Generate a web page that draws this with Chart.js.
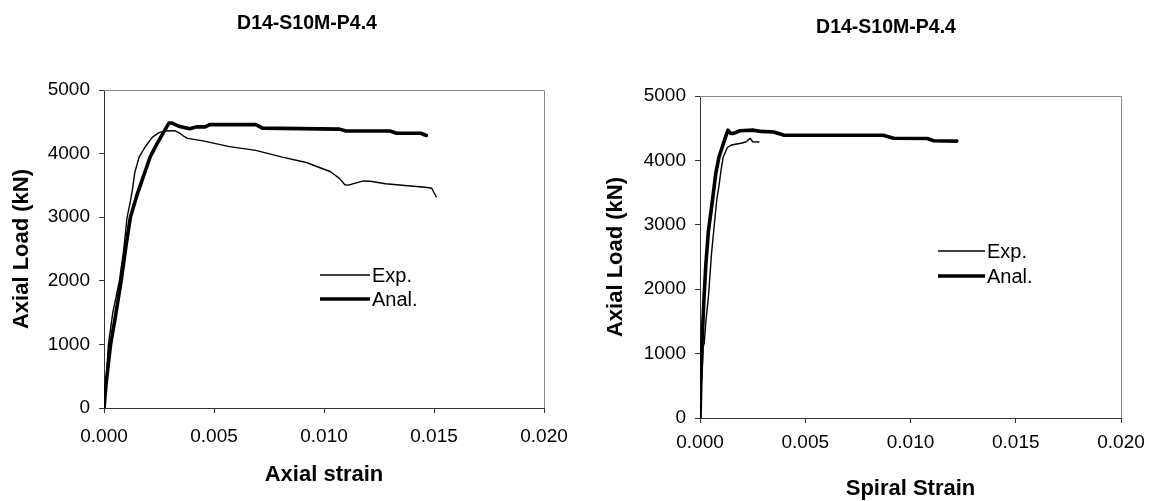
<!DOCTYPE html>
<html>
<head>
<meta charset="utf-8">
<script src="https://cdn.jsdelivr.net/npm/chart.js@4.4.1/dist/chart.umd.min.js"></script>
<style>
  html, body { margin: 0; padding: 0; background: #fff; overflow: hidden; }
  body { width: 1149px; height: 501px; position: relative; }
  .panel { position: absolute; top: 0; height: 501px; }
  #leftPanel { left: 0; width: 614px; }
  #rightPanel { left: 600px; width: 572px; }
</style>
</head>
<body>
<div class="panel" id="leftPanel"><canvas id="axialChart"></canvas></div>
<div class="panel" id="rightPanel"><canvas id="spiralChart"></canvas></div>
<script>
const chartTitle = "D14-S10M-P4.4";
const seriesNames = ["Exp.", "Anal."];
const strainTicks = ["0.000", "0.005", "0.010", "0.015", "0.020"];
const loadTicks = ["0", "1000", "2000", "3000", "4000", "5000"];

// axial strain vs load
const axialStrainExp = [0, 0.0001, 0.0002, 0.0004, 0.0007, 0.0009, 0.00105, 0.0012, 0.0013, 0.0014, 0.0016, 0.0019, 0.0022, 0.0025, 0.0028, 0.0032, 0.0034, 0.0036, 0.0038, 0.0045, 0.0057, 0.0069, 0.0081, 0.0092, 0.0103, 0.0107, 0.01095, 0.0111, 0.0118, 0.0121, 0.0128, 0.0138, 0.0146, 0.0149, 0.0151];
const axialLoadExp = [0, 450, 1000, 1500, 2000, 2500, 3000, 3250, 3450, 3700, 3950, 4120, 4260, 4330, 4355, 4360, 4330, 4280, 4240, 4200, 4110, 4050, 3945, 3860, 3715, 3610, 3510, 3505, 3570, 3565, 3525, 3495, 3470, 3455, 3320];
const axialStrainAnal = [0, 0.0001, 0.0003, 0.0005, 0.00078, 0.001, 0.0012, 0.0015, 0.0018, 0.0021, 0.0024, 0.0027, 0.00295, 0.0031, 0.0034, 0.0039, 0.0042, 0.0046, 0.0048, 0.0069, 0.0072, 0.0107, 0.011, 0.013, 0.0133, 0.0144, 0.01465];
const axialLoadAnal = [0, 400, 1000, 1400, 2000, 2550, 3000, 3350, 3650, 3950, 4150, 4330, 4480, 4480, 4430, 4390, 4420, 4420, 4455, 4455, 4400, 4385, 4355, 4355, 4320, 4320, 4285];

// spiral strain vs load
const spiralStrainExp = [0, 0.00005, 0.0001, 0.00015, 0.0002, 0.00028, 0.0004, 0.00047, 0.00055, 0.00067, 0.0008, 0.0009, 0.001, 0.0011, 0.0013, 0.0015, 0.002, 0.0022, 0.00238, 0.0025, 0.0028];
const spiralLoadExp = [0, 500, 700, 1100, 1160, 1500, 1880, 2200, 2560, 2970, 3400, 3600, 3850, 4050, 4200, 4240, 4270, 4290, 4345, 4290, 4285];
const spiralStrainAnal = [0, 0.00005, 0.0001, 0.00018, 0.00028, 0.0004, 0.0006, 0.00075, 0.0009, 0.00105, 0.0012, 0.00133, 0.00145, 0.0016, 0.0019, 0.0025, 0.0029, 0.0035, 0.004, 0.0087, 0.0092, 0.0108, 0.0111, 0.0122];
const spiralLoadAnal = [0, 700, 1200, 1800, 2400, 2900, 3400, 3800, 4050, 4200, 4350, 4470, 4420, 4420, 4460, 4470, 4450, 4440, 4390, 4390, 4345, 4340, 4305, 4300];

const FONT = "'Liberation Sans', Arial, sans-serif";

function toPoints(xs, ys) {
  return xs.map((x, i) => ({ x: x, y: ys[i] }));
}

// frame + in-plot legend
const framePlugin = {
  id: "frameAndLegend",
  afterDatasetsDraw(chart, args, opts) {
    const { ctx, chartArea: a } = chart;
    ctx.save();
    ctx.strokeStyle = "#8a8a8a";
    ctx.lineWidth = 1;
    ctx.beginPath();
    ctx.moveTo(a.left, a.top + 0.5);
    ctx.lineTo(a.right + 0.5, a.top + 0.5);
    ctx.lineTo(a.right + 0.5, a.bottom);
    ctx.stroke();

    ctx.font = "20px " + FONT;
    ctx.fillStyle = "#000";
    ctx.textBaseline = "middle";
    chart.data.datasets.forEach((ds, i) => {
      const y = a.top + opts.rows[i];
      const x0 = a.left + opts.x;
      ctx.strokeStyle = ds.borderColor;
      ctx.lineWidth = ds.borderWidth;
      ctx.beginPath();
      ctx.moveTo(x0, y);
      ctx.lineTo(x0 + opts.len, y);
      ctx.stroke();
      ctx.fillText(ds.label, x0 + opts.len + 2, y + 1);
    });
    ctx.restore();
  }
};

function makeChart(id, g) {
  const ctx = document.getElementById(id);
  return new Chart(ctx, {
    type: "line",
    data: {
      datasets: [
        { label: seriesNames[0], data: toPoints(g.expX, g.expY), borderColor: "#000", borderWidth: 1.4 },
        { label: seriesNames[1], data: toPoints(g.analX, g.analY), borderColor: "#000", borderWidth: 3.6 }
      ]
    },
    options: {
      responsive: true,
      maintainAspectRatio: false,
      animation: false,
      layout: { padding: 0 },
      elements: {
        point: { radius: 0 },
        line: { tension: 0, borderCapStyle: "round", borderJoinStyle: "round" }
      },
      plugins: {
        legend: { display: false },
        tooltip: { enabled: false },
        title: {
          display: true,
          text: chartTitle,
          color: "#000",
          font: { family: FONT, size: 19.5, weight: "bold", lineHeight: 1.2 },
          padding: { top: g.titleTop, bottom: g.titleBottom }
        },
        frameAndLegend: { x: g.legX, len: g.legLen, rows: g.legRows }
      },
      scales: {
        x: {
          type: "linear",
          min: 0,
          max: 0.02,
          afterBuildTicks: s => { s.ticks = strainTicks.map(t => ({ value: parseFloat(t) })); },
          // right gap kept on the axis so the title stays centred on the whole canvas
          afterFit: s => { s.height = g.xHeight; s.paddingLeft = 0; s.paddingRight = g.padRight; },
          ticks: {
            color: "#000",
            font: { family: FONT, size: 19 },
            padding: g.xTickPad,
            maxRotation: 0,
            callback: (v, i) => strainTicks[i]
          },
          grid: { drawOnChartArea: false, drawTicks: true, tickLength: 5, color: "#333" },
          border: { display: true, color: "#333", width: 1 },
          title: {
            display: true,
            text: g.xTitle,
            color: "#000",
            font: { family: FONT, size: 22, weight: "bold", lineHeight: 1 },
            padding: { top: 0, bottom: g.xTitlePad }
          }
        },
        y: {
          type: "linear",
          min: 0,
          max: 5000,
          afterBuildTicks: s => { s.ticks = loadTicks.map(t => ({ value: parseFloat(t) })); },
          afterFit: s => { s.width = g.yWidth; s.paddingTop = 0; s.paddingBottom = 0; },
          ticks: {
            color: "#000",
            font: { family: FONT, size: 19 },
            padding: 9,
            callback: (v, i) => loadTicks[i]
          },
          grid: { drawOnChartArea: false, drawTicks: true, tickLength: 5, color: "#333" },
          border: { display: true, color: "#333", width: 1 },
          title: {
            display: true,
            text: "Axial Load (kN)",
            color: "#000",
            font: { family: FONT, size: 22, weight: "bold", lineHeight: 1 },
            padding: { top: g.yTitlePad, bottom: 0 }
          }
        }
      }
    },
    plugins: [framePlugin]
  });
}

makeChart("axialChart", {
  expX: axialStrainExp, expY: axialLoadExp,
  analX: axialStrainAnal, analY: axialLoadAnal,
  xTitle: "Axial strain",
  padRight: 70, titleTop: 11.5, titleBottom: 55.1,
  xHeight: 93, xTickPad: 12.6, xTitlePad: 15,
  yWidth: 104, yTitlePad: 11,
  legX: 216, legLen: 50, legRows: [185, 209]
});

makeChart("spiralChart", {
  expX: spiralStrainExp, expY: spiralLoadExp,
  analX: spiralStrainAnal, analY: spiralLoadAnal,
  xTitle: "Spiral Strain",
  padRight: 51, titleTop: 15.5, titleBottom: 57.1,
  xHeight: 83, xTickPad: 8, xTitlePad: 1,
  yWidth: 100, yTitlePad: 5,
  legX: 238, legLen: 47, legRows: [155, 180]
});
</script>
</body>
</html>
